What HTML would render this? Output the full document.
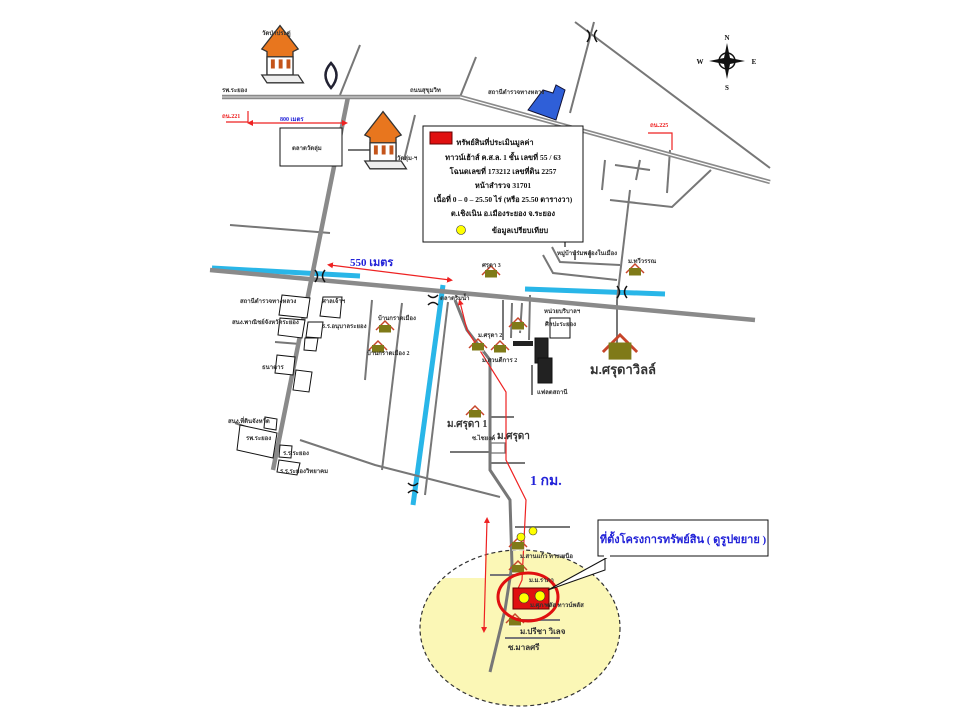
<!DOCTYPE html>
<html><head><meta charset="utf-8"><style>
html,body{margin:0;padding:0;background:#fff}
svg{display:block}
text{font-family:"Liberation Serif","DejaVu Serif",serif;font-weight:bold}
</style></head><body>
<svg width="960" height="720" viewBox="0 0 960 720" xmlns="http://www.w3.org/2000/svg">
<defs>
<marker id="ar" viewBox="0 0 10 10" refX="5" refY="5" markerWidth="5" markerHeight="5" orient="auto-start-reverse"><path d="M0,0L10,5L0,10z" fill="#e22"/></marker>
<g id="house"><path d="M-9,0 L0,-9 L9,0" fill="none" stroke="#c7452a" stroke-width="1.5"/><rect x="-6" y="-5" width="12" height="8" fill="#7f7a18"/><path d="M-6,3 L6,3" stroke="#fff"/></g>
<g id="temple"><path d="M-14,-10 L0,-28 L14,-10 L10,-8 L10,10 L-10,10 L-10,-8z" fill="#e8761e" stroke="#333"/><rect x="-10" y="-4" width="20" height="14" fill="#fff" stroke="#333"/><rect x="-7" y="-2" width="3" height="7" fill="#c4541a"/><rect x="-1" y="-2" width="3" height="7" fill="#c4541a"/><rect x="5" y="-2" width="3" height="7" fill="#c4541a"/><path d="M-14,10 L14,10 L18,16 L-10,16z" fill="#eee" stroke="#333"/></g>
</defs>

<ellipse cx="520" cy="628" rx="100" ry="78" fill="#fbf7b6"/>
<rect x="418" y="545" width="67" height="33" fill="#fff"/>
<ellipse cx="520" cy="628" rx="100" ry="78" fill="none" stroke="#333" stroke-width="1.2" stroke-dasharray="4,3"/>

<g stroke="#29b6e8" stroke-width="5" fill="none">
<path d="M212,268 L360,276"/>
<path d="M525,289 L665,294"/>
<path d="M443,285 L413,505"/>
</g>

<g stroke="#777" stroke-width="2" fill="none">
<path d="M340,95 L360,45"/>
<path d="M460,97 L476,57"/>
<path d="M404,160 L415,115"/>
<path d="M348,150 L385,150"/>
<path d="M575,22 L770,168"/>
<path d="M594,22 L570,113"/>
<path d="M670,150 L667,193"/>
<path d="M610,200 L672,207 L711,170"/>
<path d="M605,160 L602,190 M615,165 L650,170 M640,160 L636,180"/>
<path d="M630,190 L617,300"/>
<path d="M552,247 L560,262 L620,265"/>
<path d="M543,255 L553,273 L617,280"/>
<path d="M565,240 L565,247 M575,250 L575,260 M590,250 L590,258"/>
<path d="M230,225 L330,233"/>
<path d="M275,342 L300,344"/>
<path d="M235,423 L275,437"/>
<path d="M300,440 L375,465 L500,497"/>
<path d="M372,300 L365,380"/>
<path d="M402,303 L382,470"/>
<path d="M448,302 L425,495"/>
<path d="M503,340 L503,300 M511,338 L512,303 M520,333 L522,303"/>
<path d="M529,340 L530,295 M532,365 L532,395"/>
<path d="M617,300 L617,344"/>
<path d="M455,300 L467,330 L490,360 L490,400 L490,470 L510,500 L512,565 L505,610 L490,672" stroke-width="3"/>
<path d="M490,417 L514,417 M450,452 L490,452 M490,463 L525,463 M515,527 L570,527 M490,575 L515,575 M510,620 L560,620 M505,638 L560,638"/>
<rect x="491" y="443" width="14" height="10" fill="#fff" stroke-width="1.3"/>
</g>

<g fill="none" stroke="#8a8a8a" stroke-width="4.5">
<path d="M222,97 L460,97 L770,182"/>
<path d="M348,97 L273,470"/>
<path d="M210,270 L755,320"/>
</g>
<path d="M460,97 L770,182" stroke="#fff" stroke-width="1.2" fill="none"/>
<path d="M222,97 L460,97" stroke="#ddd" stroke-width="1" fill="none"/>

<g stroke="#111" stroke-width="1.5" fill="none">
<path d="M315,270 Q320,276 315,282 M325,270 Q320,276 325,282"/>
<path d="M428,295 Q433,300 438,295 M428,305 Q433,300 438,305" />
<path d="M617,286 Q622,292 617,298 M627,286 Q622,292 627,298"/>
<path d="M587,30 Q592,35 587,42 M597,30 Q592,35 597,42"/>
<path d="M408,483 Q413,488 418,483 M408,493 Q413,488 418,493"/>
</g>

<g stroke="#e22" stroke-width="1.2" fill="none">
<path d="M250,123 L345,123" marker-start="url(#ar)" marker-end="url(#ar)"/>
<path d="M330,265 L450,280" marker-start="url(#ar)" marker-end="url(#ar)"/>
<path d="M487,520 L484,630" marker-start="url(#ar)" marker-end="url(#ar)"/>
<path d="M226,122 L248,122 L248,111"/>
<path d="M648,133 L672,133 L672,150"/>
<path d="M460,302 L467,330 L506,392 L506,460 L526,500 L522,580 L515,595" marker-start="url(#ar)"/>
</g>

<g transform="translate(280,62) scale(1.3)"><use href="#temple"/></g>
<g transform="translate(383,148) scale(1.3)"><use href="#temple"/></g>
<path d="M331,63 Q320,75 331,88 Q342,75 331,63z" fill="none" stroke="#223" stroke-width="2.5"/>
<path d="M528,110 L543,90 L553,93 L556,85 L565,90 L556,120z" fill="#2f5fd8" stroke="#113"/>

<g fill="#fff" stroke="#111" stroke-width="1">
<rect x="280" y="128" width="62" height="38"/>
<path d="M282,295 L310,298 L307,318 L279,315z"/>
<path d="M323,297 L342,297 L340,318 L320,316z"/>
<path d="M280,318 L305,320 L302,338 L278,335z"/>
<path d="M308,322 L323,322 L321,338 L306,337z"/>
<path d="M305,338 L318,338 L316,351 L304,350z"/>
<path d="M277,355 L295,357 L293,375 L275,373z"/>
<path d="M296,370 L312,372 L309,392 L293,390z"/>
<path d="M240,425 L277,433 L273,458 L237,450z"/>
<path d="M265,417 L277,419 L276,430 L264,428z"/>
<path d="M280,445 L292,446 L291,458 L279,457z"/>
<path d="M279,460 L300,463 L297,475 L277,472z"/>
<path d="M550,318 L570,318 L570,338 L550,338z"/>
<rect x="535" y="338" width="13" height="25" fill="#222"/>
<rect x="538" y="358" width="14" height="25" fill="#222"/>
</g>
<rect x="513" y="341" width="20" height="5" fill="#222"/>

<use href="#house" x="491" y="275"/>
<use href="#house" x="385" y="330"/>
<use href="#house" x="378" y="350"/>
<use href="#house" x="518" y="327"/>
<use href="#house" x="478" y="348"/>
<use href="#house" x="500" y="350"/>
<use href="#house" x="475" y="415"/>
<use href="#house" x="635" y="273"/>
<use href="#house" x="518" y="547"/>
<use href="#house" x="518" y="570"/>
<use href="#house" x="515" y="623"/>
<g transform="translate(620,352) scale(1.9)"><path d="M-9,0 L0,-9 L9,0" fill="none" stroke="#c7452a" stroke-width="1.5"/><rect x="-6" y="-5" width="12" height="9" fill="#7f7a18"/></g>

<rect x="513" y="588" width="36" height="21" fill="#e01010" stroke="#600"/>
<circle cx="524" cy="598" r="5" fill="#ff0" stroke="#333" stroke-width=".6"/>
<circle cx="540" cy="596" r="5" fill="#ff0" stroke="#333" stroke-width=".6"/>
<circle cx="521" cy="537" r="4" fill="#ff0" stroke="#333" stroke-width=".6"/>
<circle cx="533" cy="531" r="4" fill="#ff0" stroke="#333" stroke-width=".6"/>
<ellipse cx="528" cy="597" rx="30" ry="24" fill="none" stroke="#e01010" stroke-width="3"/>

<path d="M605,555 L605,570 L548,590 L610,556" fill="#fff" stroke="#111"/>
<rect x="598" y="520" width="170" height="36" fill="#fff" stroke="#111"/>
<rect x="604" y="555" width="6" height="3" fill="#fff"/>
<text x="683" y="543" font-size="11" fill="#2222d8" text-anchor="middle">ที่ตั้งโครงการทรัพย์สิน ( ดูรูปขยาย )</text>

<rect x="423" y="126" width="160" height="116" fill="#fff" stroke="#111"/>
<rect x="430" y="132" width="22" height="12" fill="#e01010" stroke="#600"/>
<g font-size="7.5" fill="#111" text-anchor="middle">
<text x="495" y="145">ทรัพย์สินที่ประเมินมูลค่า</text>
<text x="503" y="160">ทาวน์เฮ้าส์ ค.ส.ล. 1 ชั้น เลขที่ 55 / 63</text>
<text x="503" y="174">โฉนดเลขที่ 173212 เลขที่ดิน 2257</text>
<text x="503" y="188">หน้าสำรวจ 31701</text>
<text x="503" y="202">เนื้อที่ 0 – 0 – 25.50 ไร่ (หรือ 25.50 ตารางวา)</text>
<text x="503" y="216">ต.เชิงเนิน อ.เมืองระยอง จ.ระยอง</text>
<text x="520" y="233">ข้อมูลเปรียบเทียบ</text>
</g>
<circle cx="461" cy="230" r="4.5" fill="#ff0" stroke="#333" stroke-width=".6"/>

<g transform="translate(727,61)" fill="#111">
<circle r="8" fill="none" stroke="#111" stroke-width="1.5"/>
<path d="M0,-18 L3,-3 L18,0 L3,3 L0,18 L-3,3 L-18,0 L-3,-3z"/>
<text x="0" y="-21" font-size="7" text-anchor="middle" font-family="Liberation Sans">N</text>
<text x="0" y="29" font-size="7" text-anchor="middle" font-family="Liberation Sans">S</text>
<text x="-27" y="3" font-size="7" text-anchor="middle" font-family="Liberation Sans">W</text>
<text x="27" y="3" font-size="7" text-anchor="middle" font-family="Liberation Sans">E</text>
</g>

<g font-size="6" fill="#333">
<text x="262" y="35">วัดป่าประดู่</text>
<text x="222" y="92">รพ.ระยอง</text>
<text x="222" y="118" fill="#e22">ถน.221</text>
<text x="410" y="92">ถนนสุขุมวิท</text>
<text x="488" y="94">สถานีตำรวจทางหลวง</text>
<text x="292" y="150">ตลาดวัดลุ่ม</text>
<text x="397" y="160">วัดลุ่ม-ฯ</text>
<text x="650" y="127" fill="#e22">ถน.225</text>
<text x="240" y="303">สถานีตำรวจทางหลวง</text>
<text x="322" y="303">ศาลเจ้าฯ</text>
<text x="232" y="324">สนง.พาณิชย์จังหวัดระยอง</text>
<text x="322" y="328">ร.ร.อนุบาลระยอง</text>
<text x="262" y="369">ธนาคาร</text>
<text x="228" y="423">สนง.ที่ดินจังหวัด</text>
<text x="246" y="440">รพ.ระยอง</text>
<text x="283" y="455">ร.ร.ระยอง</text>
<text x="280" y="473">ร.ร.ระยองวิทยาคม</text>
<text x="378" y="320">บ้านกราดเมือง</text>
<text x="367" y="355">บ้านกราดเมือง 2</text>
<text x="482" y="267">ศรุดา 3</text>
<text x="440" y="300">ตลาดริมน้ำ</text>
<text x="544" y="313">หน่วยบริบาลฯ</text>
<text x="545" y="326">ศิลปะระยอง</text>
<text x="478" y="337">ม.ศรุดา 2</text>
<text x="482" y="362">ม.สวนดีการ 2</text>
<text x="537" y="394">แฟลตสถานี</text>
<text x="557" y="255">หมู่บ้านร่มพลองในเมือง</text>
<text x="628" y="263">ม.ทวีวรรณ</text>
<text x="472" y="440">ซ.ไชยงค์</text>
<text x="520" y="558">ม.สานแก้ว ทางเหนือ</text>
<text x="529" y="582">ม.ม.ราภา</text>
<text x="530" y="607">ม.ศุภ/พลัส ทาวน์พลัส</text>
</g>
<g font-size="10" fill="#333">
<text x="447" y="427">ม.ศรุดา 1</text>
<text x="497" y="439">ม.ศรุดา</text>
<text x="520" y="634" font-size="8">ม.ปรีชา วิเลจ</text>
<text x="508" y="650" font-size="8">ซ.มาลศรี</text>
<text x="590" y="374" font-size="13">ม.ศรุดาวิลล์</text>
</g>
<text x="280" y="121" font-size="6" fill="#2222d8">800 เมตร</text>
<text x="350" y="266" font-size="11" fill="#2222d8">550 เมตร</text>
<text x="530" y="485" font-size="14" fill="#2222d8">1 กม.</text>
</svg>
</body></html>
